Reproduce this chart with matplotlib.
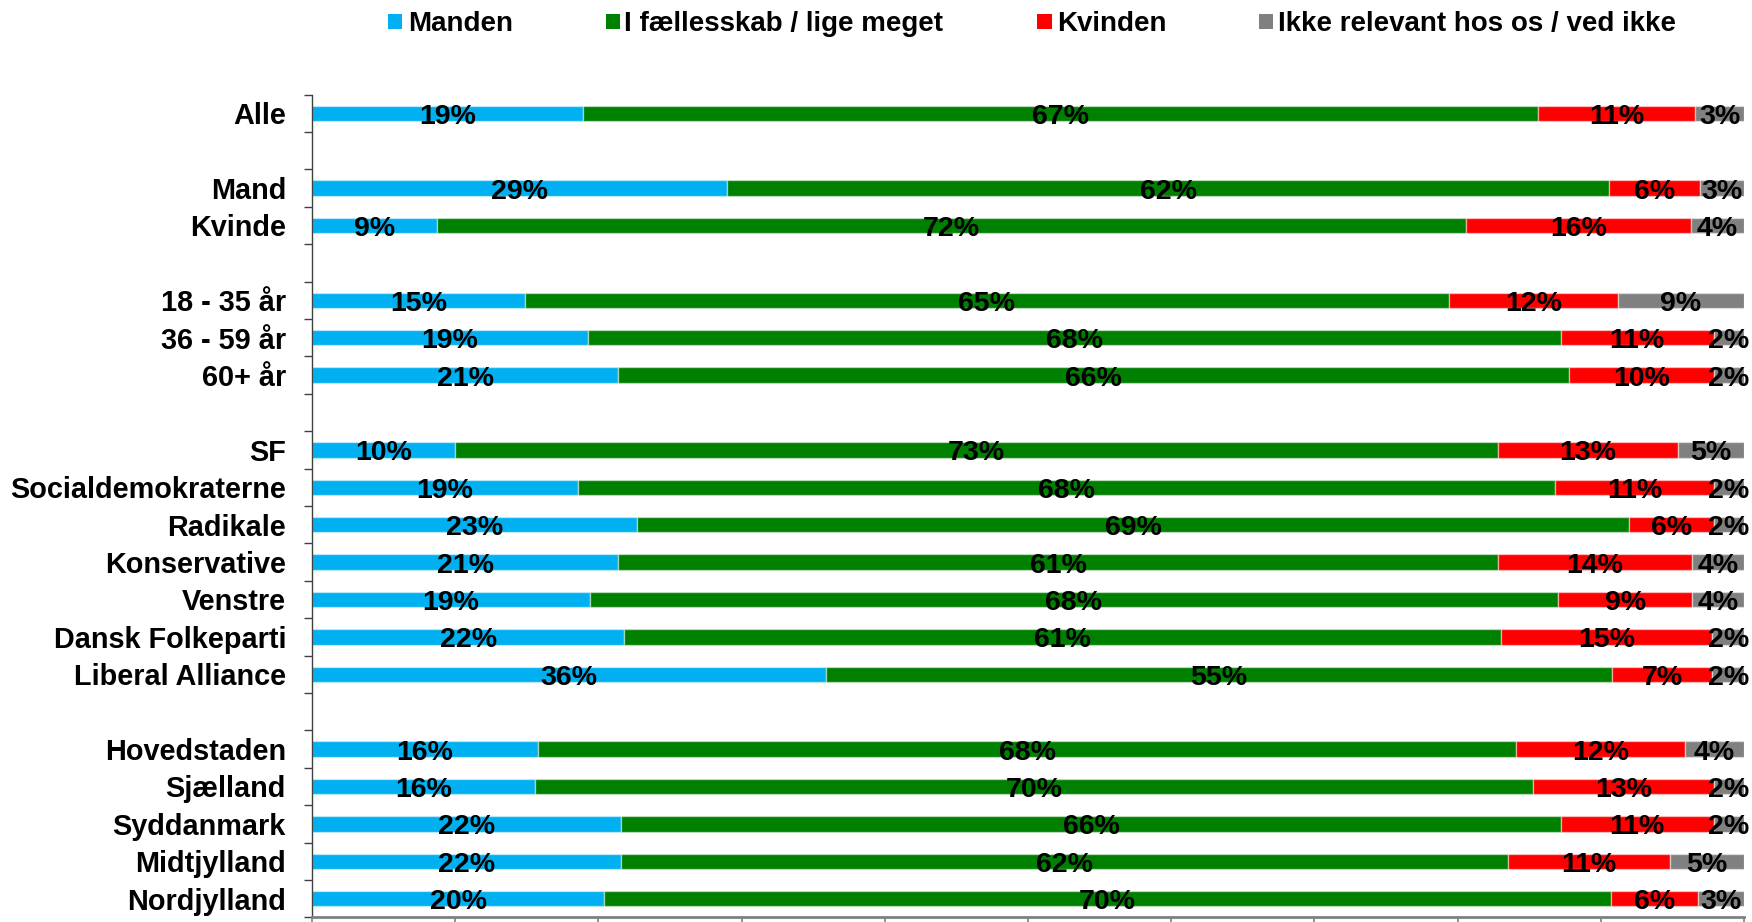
import matplotlib
matplotlib.use("Agg")
import matplotlib.pyplot as plt
from matplotlib.patches import Rectangle
import numpy as np

plt.rcParams['font.family'] = ['Liberation Sans', 'DejaVu Sans']
plt.rcParams['font.weight'] = 'bold'

# ---- data ----
series_names = ["Manden", "I fællesskab / lige meget", "Kvinden", "Ikke relevant hos os / ved ikke"]
series_colors = ["#00B0F0", "#008000", "#FF0000", "#808080"]

# None marks an empty slot (gap between groups)
rows = ["Alle", None,
        "Mand", "Kvinde", None,
        "18 - 35 år", "36 - 59 år", "60+ år", None,
        "SF", "Socialdemokraterne", "Radikale", "Konservative", "Venstre",
        "Dansk Folkeparti", "Liberal Alliance", None,
        "Hovedstaden", "Sjælland", "Syddanmark", "Midtjylland", "Nordjylland"]

manden = [18.9, 29.0, 8.7, 14.85, 19.25, 21.4, 10.0, 18.6, 22.7, 21.4, 19.4, 21.8, 35.9,
          15.8, 15.6, 21.6, 21.6, 20.4]
faelles = [66.7, 61.6, 71.9, 64.55, 67.95, 66.4, 72.8, 68.2, 69.3, 61.4, 67.6, 61.25, 54.9,
           68.3, 69.7, 65.6, 61.9, 70.3]
kvinden = [11.0, 6.3, 15.7, 11.8, 10.7, 10.1, 12.6, 11.1, 5.9, 13.6, 9.4, 14.75, 7.0,
           11.8, 12.6, 10.7, 11.3, 6.1]
ikke = [3.4, 3.1, 3.7, 8.8, 2.1, 2.1, 4.6, 2.1, 2.1, 3.6, 3.6, 2.2, 2.2,
        4.1, 2.1, 2.1, 5.2, 3.2]

series = [manden, faelles, kvinden, ikke]

# ---- figure ----
W, H = 1752, 922
fig = plt.figure(figsize=(W / 100, H / 100), dpi=100)
ax_top, ax_bot = 94.6, 917.4
ax = fig.add_axes([312 / W, 1 - ax_bot / H, 1432 / W, (ax_bot - ax_top) / H])

positions = [i for i, r in enumerate(rows) if r is not None]
labels = [r for r in rows if r is not None]
ypos = np.array(positions, dtype=float)

left = np.zeros(len(labels))
for vals, col in zip(series, series_colors):
    vals = np.array(vals)
    ax.barh(ypos, vals, left=left, height=0.41, color=col,
            edgecolor=(1, 1, 1, 0.45), linewidth=1.0)
    for y, l, v in zip(ypos, left, vals):
        ax.annotate(f"{round(v)}%", xy=(l + v / 2, y), xytext=(0, -7.5),
                    textcoords='offset points', ha='center', va='baseline',
                    fontsize=20.5, fontweight='bold', color='black',
                    annotation_clip=False)
    left = left + vals

# category labels
for y, lab in zip(ypos, labels):
    ax.annotate(lab, xy=(0, y), xycoords=('axes fraction', 'data'),
                xytext=(-18.7, -7.9), textcoords='offset points',
                ha='right', va='baseline', fontsize=20.8, fontweight='bold',
                color='black', annotation_clip=False)

ax.set_xlim(0, 100)
ax.set_ylim(len(rows) - 0.5, -0.5)

ax.set_xticks(np.arange(0, 101, 10))
ax.set_xticklabels([])
ax.set_yticks(np.arange(-0.5, len(rows) + 0.5, 1))
ax.set_yticklabels([])
ax.tick_params(axis='x', direction='out', length=4.5, width=1.2, color='#808080')
ax.tick_params(axis='y', direction='out', length=5.8, width=1.0, color='#404040')

for s in ['top', 'right']:
    ax.spines[s].set_visible(False)
ax.spines['left'].set_color('#404040')
ax.spines['left'].set_linewidth(1.0)
ax.spines['bottom'].set_color('#808080')
ax.spines['bottom'].set_linewidth(2.0)

# ---- legend (manual, in pixel coordinates) ----
leg_sq = [387.5, 605.5, 1037.0, 1258.5]
leg_txt = [408.0, 624.0, 1057.0, 1278.5]
sq_size = 14.5
leg_cy = 21.5
for xs, xt, name, col in zip(leg_sq, leg_txt, series_names, series_colors):
    fig.patches.append(Rectangle((xs / W, 1 - (leg_cy + sq_size / 2) / H),
                                 sq_size / W, sq_size / H,
                                 transform=fig.transFigure, facecolor=col,
                                 edgecolor='none'))
    fig.text(xt / W, 1 - 30.7 / H, name, ha='left', va='baseline',
             fontsize=20, fontweight='bold', color='black')

fig.savefig("out.png", dpi=100)
